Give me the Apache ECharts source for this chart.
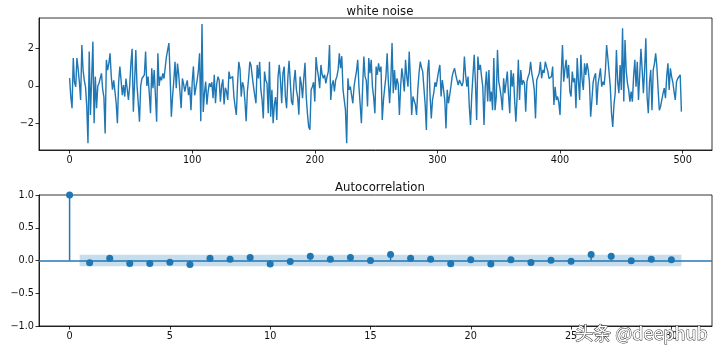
<!DOCTYPE html>
<html>
<head>
<meta charset="utf-8">
<script src="https://cdn.jsdelivr.net/npm/echarts@6/dist/echarts.min.js"></script>
<style>
  html, body { margin: 0; padding: 0; background: #fff; }
  #main { width: 720px; height: 351px; }
</style>
</head>
<body>
<div id="main"></div>
<script>
// white noise samples (steps 0..499)
const noise = [
  0.42, -0.6, -1.2, 1.5, 0.2, -0.05, 1.5, 0.9, 0.2, -0.75,
  2.2, 0.85, 0.3, -0.05, -1.1, -3.08, 1.85, -1.56, 0.4, 2.38,
  -2.0, 0.5, -1.2, 0.0, 0.15, 0.25, 0.68, -0.2, -0.6, -2.55,
  1.4, 0.85, 1.2, 1.75, 0.5, -0.2, 0.3, -0.3, -0.93, -2.0,
  0.2, 1.04, 0.3, -0.5, 0.05, -0.57, 0.4, 0.3, -0.75, 0.0,
  1.2, 2.0, -1.38, 0.2, 1.93, 0.0, -0.9, -1.92, 0.0, 0.4,
  0.3, 0.6, 1.85, 0.0, 0.5, -0.4, -1.47, 0.95, -0.12, 0.86,
  -0.5, -1.92, 1.75, 0.0, 0.5, 0.3, 0.68, 0.4, 0.5, 1.58,
  1.6, 2.3, 0.5, -1.65, -0.57, 0.3, 1.3, -0.12, 1.2, 0.6,
  -0.3, -1.2, 0.4, 0.1, -0.3, 0.05, 0.3, -0.5, -0.05, -1.3,
  0.2, 1.05, -0.5, -0.1, 0.3, 0.8, 1.75, -1.9, 3.33, -1.4,
  -0.4, 0.23, -1.0, -0.3, 0.14, -0.04, 0.2, -0.66, 0.6, -0.93,
  0.1, 0.5, 0.32, -0.84, 0.0, 0.36, -1.0, -0.1, -0.3, -0.75,
  0.77, 0.4, 0.3, 0.5, -0.57, -1.1, -1.56, 0.14, 1.3, 0.9,
  -0.57, 0.2, -0.04, -0.8, -1.9, -0.3, 0.4, 1.3, 1.1, 0.5,
  -0.04, -0.5, -0.93, 1.13, 0.4, 1.3, -0.2, -0.75, -1.74, 0.77,
  0.3, 0.14, -1.47, 1.3, -1.65, -0.2, -2.0, -1.0, -0.6, -1.83,
  0.5, 1.13, 0.3, -0.93, 0.68, 1.04, -0.57, -1.2, 0.41, 1.35,
  0.2, -0.84, -1.02, 0.23, 0.86, -0.21, -0.6, -1.55, 0.5, 0.1,
  -0.66, 0.41, 1.25, -0.57, -1.5, -2.2, -2.35, -0.21, -0.04, 0.2,
  -0.84, 1.55, 0.9, 0.5, -0.12, 1.13, 0.6, 0.41, 0.6, 0.14,
  0.5, 0.77, 2.2, -0.75, 0.05, 0.3, -0.3, 0.32, 0.5, 0.86,
  1.75, 0.95, 1.6, -0.2, -0.75, -1.3, -3.08, 0.41, -0.21, -0.04,
  -0.5, -0.93, -0.04, 0.41, 0.8, 1.4, -0.04, -1.0, -2.0, -0.04,
  1.58, 0.5, 0.3, -1.1, 1.5, 0.68, 1.4, -0.04, -0.6, -1.47,
  1.04, 0.6, 1.22, 0.77, 1.04, -1.83, -0.75, -0.1, 0.5, 1.75,
  0.2, -0.93, 0.32, 2.3, -0.39, 0.86, -0.21, 0.41, 0.1, -1.56,
  -0.04, 0.95, 0.41, -0.3, 1.4, 0.5, -0.04, 1.85, 0.32, -1.56,
  -0.57, -0.66, -1.0, -1.56, -0.21, 0.68, 1.3, 1.0, 0.77, 0.68,
  -1.0, -2.37, 0.77, 1.4, -0.5, -1.74, -0.75, -0.39, 0.2, -0.04,
  0.41, 0.8, 1.13, -0.57, 0.32, -0.2, -0.75, -2.28, -0.21, -0.93,
  -0.5, -0.04, 0.5, 0.77, 0.95, 0.59, 0.3, 0.05, 0.32, 0.41,
  0.0, 0.23, 1.58, 0.6, -0.04, 0.5, -1.1, -2.1, -0.5, 0.59,
  1.67, 0.2, -1.83, 1.58, 0.86, 1.13, 0.5, -0.04, -2.1, -0.04,
  0.77, -0.84, 0.86, -0.84, -0.3, -1.3, 1.5, -1.3, -0.57, 1.93,
  0.23, -0.12, -0.6, -1.3, 0.41, -0.39, 0.2, 0.77, -0.5, -1.47,
  0.86, -0.04, 0.68, -0.8, -1.92, -0.57, 1.4, -0.75, 0.86, 0.05,
  0.3, 0.14, -1.38, 0.23, 0.5, 0.68, 1.3, 0.68, 0.3, -0.21,
  -1.74, 0.32, 0.5, 0.68, 1.3, 0.41, 0.86, 0.7, 1.3, 1.04,
  0.8, 0.41, 0.32, 0.5, 1.04, -1.02, -0.04, -0.75, -0.57, -0.9,
  -1.56, 0.6, 2.2, 0.23, 0.9, 1.4, 0.41, 1.13, -0.3, -0.57,
  0.77, 0.2, 0.41, -1.2, 1.5, 0.3, -0.75, 1.67, 0.32, -0.21,
  1.22, 0.59, 1.22, 0.86, 0.2, -1.65, -0.75, 0.2, 0.5, 0.68,
  -1.02, 0.1, 0.5, 0.95, -0.04, 0.23, 0.05, 0.8, 2.2, 1.5,
  1.4, -0.04, -1.47, -2.2, -1.0, -0.39, 1.93, 0.23, -0.39, 1.13,
  -0.21, 3.1, -0.84, 2.47, 0.8, 0.14, -0.21, -0.84, -0.3, -0.84,
  0.5, 1.4, -0.04, 1.3, -0.75, 0.6, 2.0, 0.86, -0.39, 0.9,
  2.56, -0.57, -1.47, 0.2, 0.86, -1.3, 0.86, 1.2, 1.75, 1.04,
  -0.2, -1.3, -1.1, -0.75, -0.4, -0.12, -0.66, 0.5, 1.22, -0.21,
  0.95, 0.5, 0.2, -0.3, -0.75, 0.23, 0.4, 0.5, 0.6, -1.38
]
// autocorrelation, lags 0..30
const acfLags = [0, 1, 2, 3, 4, 5, 6, 7, 8, 9, 10, 11, 12, 13, 14, 15,
  16, 17, 18, 19, 20, 21, 22, 23, 24, 25, 26, 27, 28, 29, 30]
const acfValues = [1.0, -0.035, 0.035, -0.045, -0.045, -0.025, -0.06, 0.035, 0.02, 0.045,
  -0.055, -0.015, 0.065, 0.02, 0.045, 0.0, 0.09, 0.035, 0.02, -0.05,
  0.01, -0.055, 0.01, -0.03, 0.005, -0.01, 0.09, 0.065, -0.005, 0.02, 0.01]
// 95% confidence band (from lag 0.5 to 30.5)
const bandRange = [0.5, 30.5]
const bandHalf = 0.088

const noiseXTicks = [0, 100, 200, 300, 400, 500]
const noiseYTicks = [-2, 0, 2]
const lagTicks = [0, 5, 10, 15, 20, 25, 30]
const acfYTicks = [-1, -0.5, 0, 0.5, 1]

const blue = '#1f77b4'
const fontFam = 'DejaVu Sans'

function minusSign(v) {
  // matplotlib writes negatives with a real minus sign
  return String(v).replace('-', '\u2212')
}

let myChart = echarts.init(document.getElementById('main'), null, { renderer: 'canvas' })

function axisX(gridIndex, min, max, ticks) {
  return {
    type: 'value',
    gridIndex: gridIndex,
    min: min,
    max: max,
    splitLine: { show: false },
    axisLine: { show: true, onZero: false, lineStyle: { color: '#000', width: 0.8 } },
    axisTick: { show: true, inside: false, length: 3.5, customValues: ticks, lineStyle: { color: '#000', width: 0.8 } },
    axisLabel: { customValues: ticks, margin: 5, color: '#111', fontSize: 9.7, fontFamily: fontFam },
  }
}

function axisY(gridIndex, min, max, ticks, fmt) {
  return {
    type: 'value',
    gridIndex: gridIndex,
    min: min,
    max: max,
    splitLine: { show: false },
    axisLine: { show: true, onZero: false, lineStyle: { color: '#000', width: 0.8 } },
    axisTick: { show: true, inside: false, length: 3.5, customValues: ticks, lineStyle: { color: '#000', width: 0.8 } },
    axisLabel: { customValues: ticks, margin: 5, color: '#111', fontSize: 9.7, fontFamily: fontFam, formatter: fmt },
  }
}

let option = {
  backgroundColor: '#fff',
  animation: false,
  title: [
    { text: 'white noise', left: 375, top: 1, textAlign: 'center',
      textStyle: { fontSize: 11.7, fontWeight: 'normal', color: '#111', fontFamily: fontFam } },
    { text: 'Autocorrelation', left: 375, top: 177, textAlign: 'center',
      textStyle: { fontSize: 11.7, fontWeight: 'normal', color: '#111', fontFamily: fontFam } },
  ],
  grid: [
    { left: 39, top: 18, width: 673, height: 132, show: true, borderColor: '#000', borderWidth: 0.8, backgroundColor: 'transparent' },
    { left: 39, top: 195, width: 673, height: 131, show: true, borderColor: '#000', borderWidth: 0.8, backgroundColor: 'transparent' },
  ],
  xAxis: [
    axisX(0, -24.95, 523.95, noiseXTicks),
    axisX(1, -1.525, 32.025, lagTicks),
  ],
  yAxis: [
    axisY(0, -3.44, 3.65, noiseYTicks, v => minusSign(v)),
    axisY(1, -1, 1, acfYTicks, v => minusSign(v.toFixed(1))),
  ],
  series: [
    {
      name: 'noise',
      type: 'line',
      xAxisIndex: 0,
      yAxisIndex: 0,
      data: noise.map((v, i) => [i, v]),
      showSymbol: false,
      lineStyle: { color: blue, width: 1.4 },
      itemStyle: { color: blue },
    },
    {
      // band + zero line live on an empty helper series
      name: 'band',
      type: 'scatter',
      xAxisIndex: 1,
      yAxisIndex: 1,
      data: [],
      z: 1,
      markArea: {
        silent: true,
        itemStyle: { color: 'rgba(31,119,180,0.25)' },
        data: [[{ xAxis: bandRange[0], yAxis: -bandHalf }, { xAxis: bandRange[1], yAxis: bandHalf }]],
      },
      markLine: {
        silent: true,
        symbol: ['none', 'none'],
        label: { show: false },
        lineStyle: { color: blue, width: 1.5, type: 'solid' },
        data: [{ yAxis: 0 }],
      },
    },
    {
      name: 'stems',
      type: 'custom',
      xAxisIndex: 1,
      yAxisIndex: 1,
      z: 3,
      data: acfLags.map((lag, i) => [lag, acfValues[i]]),
      renderItem: function (params, api) {
        let p0 = api.coord([api.value(0), 0])
        let p1 = api.coord([api.value(0), api.value(1)])
        return {
          type: 'line',
          shape: { x1: p0[0], y1: p0[1], x2: p1[0], y2: p1[1] },
          style: { stroke: blue, lineWidth: 1.5 },
        }
      },
    },
    {
      name: 'acf',
      type: 'scatter',
      xAxisIndex: 1,
      yAxisIndex: 1,
      z: 4,
      symbolSize: 7,
      itemStyle: { color: blue, opacity: 1 },
      data: acfLags.map((lag, i) => [lag, acfValues[i]]),
    },
  ],
  graphic: [
    {
      type: 'text',
      right: 12,
      bottom: 8,
      z: 100,
      style: {
        text: '头条 @deephub',
        font: '18px "Noto Sans CJK SC"',
        fill: '#ffffff',
        stroke: '#333333',
        lineWidth: 1,
      },
    },
  ],
}

myChart.setOption(option)
</script>
</body>
</html>
